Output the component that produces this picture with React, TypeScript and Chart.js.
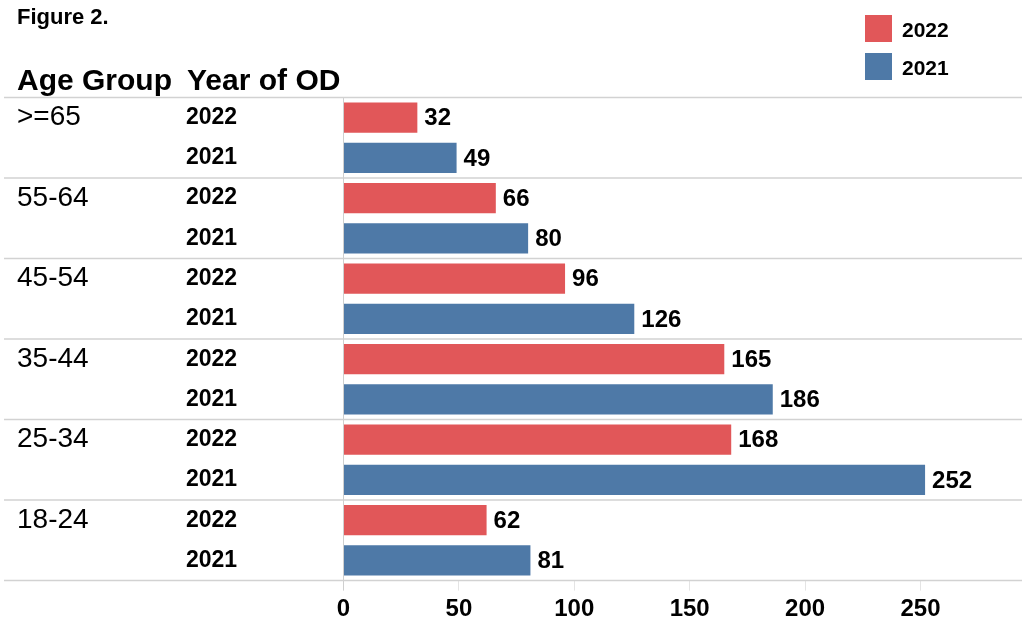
import React, { useEffect, useRef } from 'react';
import { Chart, registerables } from 'chart.js';

Chart.register(...registerables);

const ageGroups = ['>=65', '55-64', '45-54', '35-44', '25-34', '18-24'];
const years = ['2022', '2021'];
const values2022 = [32, 66, 96, 165, 168, 62];
const values2021 = [49, 80, 126, 186, 252, 81];
const xTicks = [0, 50, 100, 150, 200, 250];
const xMax = 294;

const COLOR_2022 = '#E15759';
const COLOR_2021 = '#4E79A7';
const FONT = '"Liberation Sans", Arial, Helvetica, sans-serif';

const yearLabels = ageGroups.flatMap(() => years);
const ageLabels = ageGroups.flatMap((g) => [g, '']);
const data2022 = ageGroups.flatMap((_, i) => [values2022[i], null]);
const data2021 = ageGroups.flatMap((_, i) => [null, values2021[i]]);

const separatorPlugin = {
  id: 'separators',
  beforeDatasetsDraw(chart: any) {
    const ys = chart.scales.y;
    const ctx = chart.ctx;
    const step = ys.getPixelForValue(1) - ys.getPixelForValue(0);
    ctx.save();
    ctx.strokeStyle = '#d2d2d2';
    ctx.lineWidth = 1.5;
    for (let g = 0; g <= ageGroups.length; g++) {
      const y = ys.getPixelForValue(g * years.length) - step / 2;
      ctx.beginPath();
      ctx.moveTo(4, y);
      ctx.lineTo(chart.width, y);
      ctx.stroke();
    }
    ctx.restore();
  },
};

const valueLabelPlugin = {
  id: 'valueLabels',
  afterDatasetsDraw(chart: any) {
    const ctx = chart.ctx;
    ctx.save();
    ctx.font = `bold 24px ${FONT}`;
    ctx.fillStyle = '#000';
    ctx.textAlign = 'left';
    ctx.textBaseline = 'middle';
    chart.data.datasets.forEach((ds: any, di: number) => {
      const meta = chart.getDatasetMeta(di);
      meta.data.forEach((bar: any, j: number) => {
        const v = ds.data[j];
        if (v === null || v === undefined) return;
        ctx.fillText(String(v), bar.x + 7, bar.y + 1);
      });
    });
    ctx.restore();
  },
};

export default function App() {
  const canvasRef = useRef<HTMLCanvasElement | null>(null);

  useEffect(() => {
    if (!canvasRef.current) return;
    const chart = new Chart(canvasRef.current, {
      type: 'bar',
      data: {
        labels: yearLabels,
        datasets: [
          {
            label: years[0],
            data: data2022,
            backgroundColor: COLOR_2022,
            yAxisID: 'y',
            xAxisID: 'x',
            grouped: false,
            barPercentage: 0.75,
            categoryPercentage: 1,
          } as any,
          {
            label: years[1],
            data: data2021,
            backgroundColor: COLOR_2021,
            yAxisID: 'y',
            xAxisID: 'x',
            grouped: false,
            barPercentage: 0.75,
            categoryPercentage: 1,
          } as any,
        ],
      },
      options: {
        indexAxis: 'y',
        responsive: false,
        animation: false,
        layout: { padding: { top: 97.5, left: 17, right: 0, bottom: 0 } },
        plugins: {
          legend: { display: false },
          tooltip: { enabled: false },
        },
        scales: {
          x: {
            type: 'linear',
            position: 'bottom',
            min: 0,
            max: xMax,
            afterBuildTicks: (s: any) => {
              s.ticks = xTicks.map((v) => ({ value: v }));
            },
            afterFit: (s: any) => {
              s.height = 43.4;
            },
            ticks: {
              font: { family: FONT, size: 24, weight: 'bold' },
              color: '#000',
              padding: 4,
            },
            grid: {
              drawOnChartArea: false,
              drawTicks: true,
              tickLength: 10,
              color: (c: any) => (c.index === 0 ? '#cfcfcf' : '#e4e4e4'),
            },
            border: { display: false },
          },
          y: {
            type: 'category',
            position: 'left',
            weight: 1,
            offset: true,
            grid: { display: false, offset: true },
            border: { display: true, color: '#cfcfcf', width: 1 },
            ticks: {
              crossAlign: 'far',
              autoSkip: false,
              padding: 0,
              color: '#000',
              font: { family: FONT, size: 23, weight: 'bold' },
            },
            afterFit: (s: any) => {
              s.width = 157.5;
            },
          },
          age: {
            type: 'category',
            axis: 'y',
            position: 'left',
            weight: 2,
            labels: ageLabels,
            offset: true,
            grid: { display: false, offset: true },
            border: { display: false },
            ticks: {
              crossAlign: 'far',
              autoSkip: false,
              padding: 0,
              color: '#000',
              font: { family: FONT, size: 28, weight: 'normal' },
            },
            afterFit: (s: any) => {
              s.width = 169;
            },
          },
        } as any,
      },
      plugins: [separatorPlugin, valueLabelPlugin],
    });
    return () => chart.destroy();
  }, []);

  const textBase: React.CSSProperties = {
    position: 'absolute',
    fontFamily: FONT,
    fontWeight: 'bold',
    color: '#000',
    lineHeight: 1,
    whiteSpace: 'nowrap',
    margin: 0,
  };

  return (
    <div style={{ position: 'absolute', left: 0, top: 0, width: 1022, height: 624, background: '#fff', overflow: 'hidden' }}>
      <canvas ref={canvasRef} width={1022} height={624} style={{ position: 'absolute', left: 0, top: 0, width: 1022, height: 624 }} />
      <div style={{ ...textBase, left: 17, top: 5.5, fontSize: 22 }}>Figure 2.</div>
      <div style={{ ...textBase, left: 17, top: 64.5, fontSize: 30 }}>Age Group</div>
      <div style={{ ...textBase, left: 187, top: 64.5, fontSize: 30 }}>Year of OD</div>
      <div style={{ position: 'absolute', left: 865, top: 15, width: 27, height: 27, background: COLOR_2022 }} />
      <div style={{ ...textBase, left: 902, top: 18.5, fontSize: 21 }}>{years[0]}</div>
      <div style={{ position: 'absolute', left: 865, top: 53, width: 27, height: 27, background: COLOR_2021 }} />
      <div style={{ ...textBase, left: 902, top: 56.5, fontSize: 21 }}>{years[1]}</div>
    </div>
  );
}
